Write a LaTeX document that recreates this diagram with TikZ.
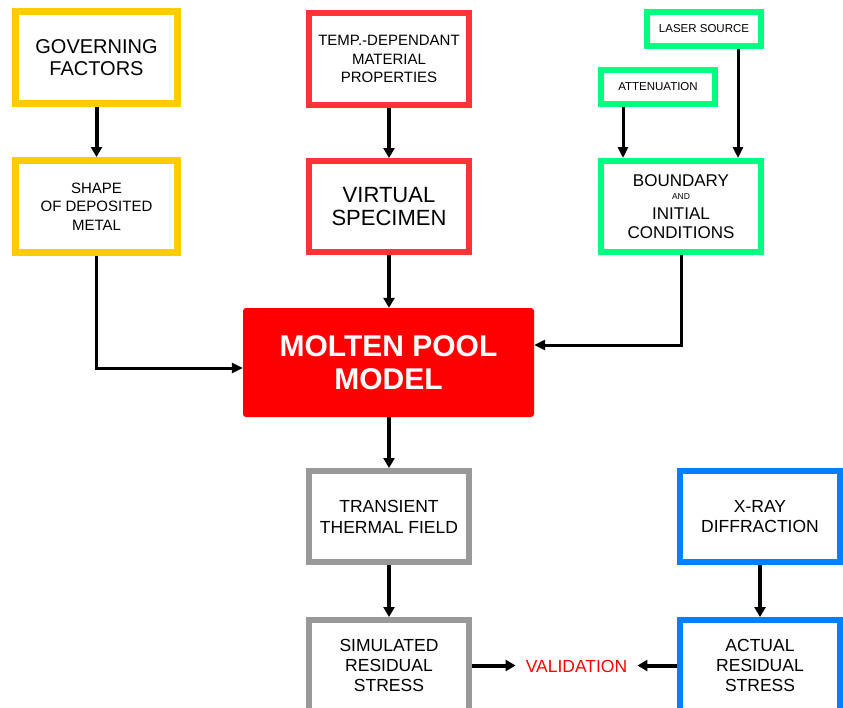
\documentclass[tikz,border=0pt]{standalone}
\usepackage{fontspec}
\setmainfont{Liberation Sans}
\usepackage{xcolor}
\usepackage{tikz}
\usetikzlibrary{arrows.meta}

\definecolor{govyellow}{RGB}{255,204,0}
\definecolor{tempred}{RGB}{255,51,51}
\definecolor{bcgreen}{RGB}{0,255,128}
\definecolor{fieldgray}{RGB}{153,153,153}
\definecolor{xrayblue}{RGB}{0,128,255}
\definecolor{poolred}{RGB}{255,0,0}

\tikzset{
    box/.style={draw, fill=white, line width=6pt, align=center, inner sep=0pt,
        minimum width=160pt, minimum height=91pt},
    smallbox/.style={box, minimum width=114pt, minimum height=34pt},
    arr/.style={-{Triangle[length=10pt,width=11pt]}, line width=4pt},
    thinarr/.style={-{Triangle[length=11pt,width=10pt]}, line width=3pt},
}

\begin{document}
\begin{tikzpicture}[x=1pt,y=-1pt]
    \useasboundingbox (0,0) rectangle (843,707);
    \clip (0,0) rectangle (843,707);

    % Governing factors
    \node[box, draw=govyellow, line width=7pt, minimum width=162pt, minimum height=92pt,
        font=\fontsize{20}{22.5}\selectfont] (gov) at (96.5,57.5) {GOVERNING\\FACTORS};
    \node[box, draw=govyellow, line width=7pt, minimum width=162pt, minimum height=92pt,
        font=\fontsize{15}{18.3}\selectfont] (shape) at (96.5,206.5) {SHAPE\\OF DEPOSITED\\METAL};

    % Material
    \node[box, draw=tempred, minimum height=92pt,
        font=\fontsize{15}{18.3}\selectfont] (temp) at (389,59) {TEMP.-DEPENDANT\\MATERIAL\\PROPERTIES};
    \node[box, draw=tempred,
        font=\fontsize{22}{23.3}\selectfont] (virtual) at (389,206.5) {VIRTUAL\\SPECIMEN};

    % Boundary conditions
    \node[smallbox, draw=bcgreen, font=\fontsize{11.5}{13}\selectfont] (laser) at (704,29) {LASER SOURCE};
    \node[smallbox, draw=bcgreen, font=\fontsize{11.5}{13}\selectfont] (atten) at (658,87) {ATTENUATION};
    \node[box, draw=bcgreen, font=\fontsize{17}{18.3}\selectfont] (bound) at (681,206.5)
        {BOUNDARY\\[-4.9pt]{\fontsize{8.5}{8.5}\selectfont AND}\\[1.7pt]INITIAL\\CONDITIONS};

    % Model
    \node[fill=poolred, rounded corners=3pt, minimum width=291pt, minimum height=109pt,
        align=center, text=white, font=\fontsize{30}{33.3}\selectfont\bfseries] (pool) at (388.5,362.5)
        {MOLTEN POOL\\MODEL};

    % Results
    \node[box, draw=fieldgray, font=\fontsize{17.5}{21}\selectfont] (field) at (389,516.5) {TRANSIENT\\THERMAL FIELD};
    \node[box, draw=fieldgray, font=\fontsize{17.5}{20}\selectfont] (simstress) at (389,665.5) {SIMULATED\\RESIDUAL\\STRESS};
    \node[box, draw=xrayblue, font=\fontsize{17.5}{20}\selectfont] (xray) at (760,516.5) {X-RAY\\DIFFRACTION};
    \node[box, draw=xrayblue, font=\fontsize{17.5}{20}\selectfont] (actstress) at (760,665.5) {ACTUAL\\RESIDUAL\\STRESS};
    \node[text=poolred, inner sep=10pt, font=\fontsize{17.5}{20}\selectfont] (valid) at (576.5,666) {VALIDATION};

    % Connectors
    \draw[arr] (gov) -- (shape);
    \draw[arr] (temp) -- (virtual);
    \draw[arr] (virtual.south) -- (virtual.south |- pool.north);
    \draw[thinarr] ([xshift=-35pt]atten.south) -- ([xshift=-35pt]atten.south |- bound.north);
    \draw[thinarr] ([xshift=34pt]laser.south) -- ([xshift=34pt]laser.south |- bound.north);
    \draw[thinarr] (shape.south) |- ([yshift=-5.5pt]pool.west);
    \draw[thinarr] (bound.south) |- ([yshift=17.5pt]pool.east);
    \draw[arr] (field.north |- pool.south) -- (field.north);
    \draw[arr] (field) -- (simstress);
    \draw[arr] (xray) -- (actstress);
    \draw[arr] (simstress.east) -- (simstress.east -| valid.west);
    \draw[arr] (actstress.west) -- (actstress.west -| valid.east);
\end{tikzpicture}
\end{document}
